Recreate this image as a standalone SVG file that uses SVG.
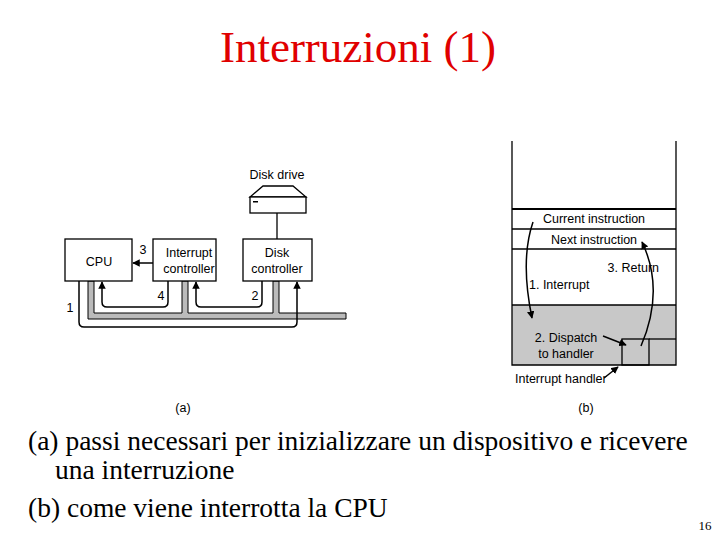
<svg xmlns="http://www.w3.org/2000/svg" width="720" height="540" viewBox="0 0 720 540">
<style>
.box{fill:#fff;stroke:#000;stroke-width:1.3}
.s{font-family:"Liberation Sans",Arial,sans-serif;font-size:12.5px;fill:#000}
.t{font-family:"Liberation Serif","Times New Roman",serif;fill:#000}
.ln{fill:none;stroke:#000;stroke-width:1.3}
.ar{fill:none;stroke:#000;stroke-width:1.5;marker-end:url(#ah)}
</style>
<defs><marker id="ah" viewBox="0 0 10 10" refX="9" refY="5" markerWidth="5" markerHeight="5" orient="auto"><path d="M0,0L10,5L0,10z" fill="#000"/></marker></defs>
<rect width="720" height="540" fill="#fff"/>
<text class="t" x="358" y="62" font-size="45" text-anchor="middle" style="fill:#e00000">Interruzioni (1)</text>
<g id="bus"><path d="M88,281V319H346V313H279V281H273V313H188V281H182V313H94V281Z" fill="#bbb" stroke="#000" stroke-width="1"/></g>
<g id="cpu"><rect class="box" x="65" y="239" width="67" height="42"/><text class="s" x="99" y="266" text-anchor="middle">CPU</text></g>
<g id="ic"><rect class="box" x="153" y="239" width="63" height="42"/><text class="s" x="189" y="257" text-anchor="middle">Interrupt</text><text class="s" x="189" y="273" text-anchor="middle">controller</text></g>
<g id="dc"><rect class="box" x="243" y="239" width="69" height="42"/><text class="s" x="277" y="257" text-anchor="middle">Disk</text><text class="s" x="277" y="273" text-anchor="middle">controller</text></g>
<g id="disk"><text class="s" x="277" y="179" text-anchor="middle">Disk drive</text><path d="M263,186H293L306,197H250Z" class="box"/><rect class="box" x="250" y="197" width="56" height="16"/><rect x="253" y="201" width="5" height="1.5" fill="#000"/></g>
<g id="stack">
<rect x="512" y="305" width="164" height="60" fill="#c8c8c8"/>
<path class="ln" d="M512,141V365H676V141"/>
<line x1="512" y1="209" x2="676" y2="209" stroke="#000" stroke-width="2"/>
<line class="ln" x1="512" y1="229" x2="676" y2="229"/>
<line class="ln" x1="512" y1="249" x2="676" y2="249"/>
<line class="ln" x1="512" y1="305" x2="676" y2="305"/>
<rect class="ln" x="622" y="339" width="27" height="26"/>
<line class="ln" x1="649" y1="339" x2="676" y2="339"/>
<text class="s" x="594" y="223" text-anchor="middle">Current instruction</text>
<text class="s" x="594" y="244" text-anchor="middle">Next instruction</text>
<text class="s" x="659" y="272" text-anchor="end">3. Return</text>
<text class="s" x="529" y="289">1. Interrupt</text>
<text class="s" x="566" y="342" text-anchor="middle">2. Dispatch</text>
<text class="s" x="566" y="358" text-anchor="middle">to handler</text>
<text class="s" x="515" y="383">Interrupt handler</text>
</g>
<g id="connectors">
<line class="ln" x1="277" y1="213" x2="277" y2="239"/>
<path class="ar" d="M153,263H133"/>
<path class="ar" d="M168,281V302Q168,307 163,307H107Q102,307 102,302V282"/>
<path class="ar" d="M262,281V302Q262,307 257,307H201Q196,307 196,302V282"/>
<path class="ar" d="M79,281V322Q79,327 84,327H292Q297,327 297,322V282"/>
<path class="ar" d="M533,222Q520,260 532,318"/>
<path class="ar" d="M641,346Q665,290 642,242"/>
<path class="ar" d="M603,336L626,345"/>
<path class="ar" d="M604,378L618,367"/>
</g>
<text class="s" x="143" y="254" text-anchor="middle">3</text>
<text class="s" x="161" y="300" text-anchor="middle">4</text>
<text class="s" x="255" y="300" text-anchor="middle">2</text>
<text class="s" x="70" y="312" text-anchor="middle">1</text>
<text class="s" x="183" y="412" text-anchor="middle">(a)</text>
<text class="s" x="586" y="412" text-anchor="middle">(b)</text>
<text class="t" x="28" y="450" font-size="27.5">(a) passi necessari per inizializzare un dispositivo e ricevere</text>
<text class="t" x="55" y="479" font-size="27.5">una interruzione</text>
<text class="t" x="28" y="517" font-size="27.5">(b) come viene interrotta la CPU</text>
<text class="t" x="705" y="530" font-size="13" text-anchor="middle">16</text>
</svg>
